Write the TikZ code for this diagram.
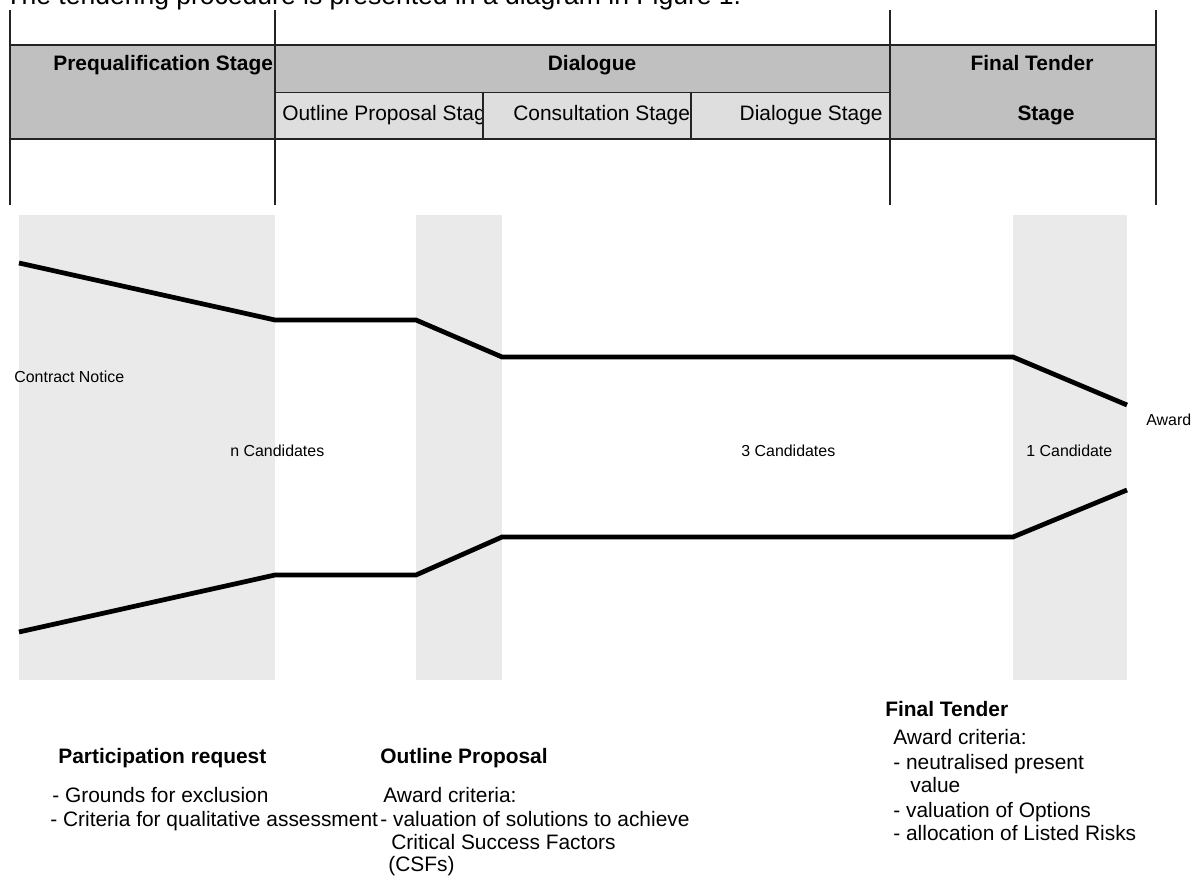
\documentclass[tikz,border=0pt]{standalone}
\usepackage{fontspec}
\setmainfont{Liberation Sans}
\begin{document}
\begin{tikzpicture}[x=0.02cm,y=-0.02cm]
\definecolor{headgray}{RGB}{192,192,192}
\definecolor{subgray}{RGB}{222,222,222}
\definecolor{colgray}{RGB}{234,234,234}
\definecolor{rulegray}{RGB}{35,35,35}
\tikzstyle{head} = [inner sep=0, font=\fontsize{11.9}{14}\selectfont\bfseries]
\tikzstyle{cell} = [inner sep=0, font=\fontsize{11.9}{14}\selectfont]
\tikzstyle{small} = [inner sep=0, font=\fontsize{9.07}{11}\selectfont]
\tikzstyle{rule} = [draw=rulegray, line width=0.7pt]
\tikzstyle{funnel} = [line width=2.7pt]

\useasboundingbox (0,0) rectangle (1203,878);

\node[inner sep=0, anchor=base west, font=\fontsize{15.1}{18}\selectfont] (title) at (5,5) {The tendering procedure is presented in a diagram in Figure 1.};

% stage table
\fill[headgray] (10,45) rectangle (1156,139);
\fill[subgray] (275,92.5) rectangle (890,139);

\node[head, anchor=base west] (prequal) at (53,71) {Prequalification Stage};
\node[head, anchor=base] (dialogue) at (592,71) {Dialogue};
\node[head, anchor=base] (finaltop) at (1032,71) {Final Tender};
\node[head, anchor=base] (finalbot) at (1046,121) {Stage};
\begin{scope}
\clip (275,92.5) rectangle (483,139);
\node[cell, anchor=base west] (outline) at (282,121) {Outline Proposal Stage};
\end{scope}
\begin{scope}
\clip (483,92.5) rectangle (691,139);
\node[cell, anchor=base west] (consult) at (513,121) {Consultation Stage};
\end{scope}
\node[cell, anchor=base east] (dlgstage) at (883,121) {Dialogue Stage};

\draw[rule] (10,45) -- (1156,45);
\draw[rule] (275,92.5) -- (890,92.5);
\draw[rule] (10,139) -- (1156,139);
\draw[rule] (483,92.5) -- (483,139);
\draw[rule] (691,92.5) -- (691,139);
\foreach \x in {10,275,890,1156}
  \draw[rule] (\x,10) -- (\x,205);

% shaded stages
\fill[colgray] (19,215) rectangle (275,680);
\fill[colgray] (416,215) rectangle (502,680);
\fill[colgray] (1013,215) rectangle (1127,680);

\coordinate (t0) at (19,263);
\coordinate (t1) at (275,320);
\coordinate (t2) at (416,320);
\coordinate (t3) at (502,357);
\coordinate (t4) at (1013,357);
\coordinate (t5) at (1127,405);
\coordinate (b0) at (19,632);
\coordinate (b1) at (275,575);
\coordinate (b2) at (416,575);
\coordinate (b3) at (502,537);
\coordinate (b4) at (1013,537);
\coordinate (b5) at (1127,490);

\draw[funnel] (t0) -- (t1) -- (t2) -- (t3) -- (t4) -- (t5);
\draw[funnel] (b0) -- (b1) -- (b2) -- (b3) -- (b4) -- (b5);

\node[small, anchor=base west] (notice) at (14,382) {Contract Notice};
\node[small, anchor=base west] (ncand) at (230,456) {n Candidates};
\node[small, anchor=base west] (threecand) at (741,456) {3 Candidates};
\node[small, anchor=base west] (onecand) at (1026,456) {1 Candidate};
\node[small, anchor=base west] (award) at (1146,425) {Award};

% criteria below
\node[head, anchor=base west] (partreq) at (58,763) {Participation request};
\node[cell, anchor=base west] (grounds) at (52,802) {- Grounds for exclusion};
\node[cell, anchor=base west] (qualcrit) at (50,826) {- Criteria for qualitative assessment};

\node[head, anchor=base west] (outprop) at (380,763) {Outline Proposal};
\node[cell, anchor=base west] (opaward) at (383,802) {Award criteria:};
\node[cell, anchor=base west] (opval) at (380,826) {- valuation of solutions to achieve};
\node[cell, anchor=base west] (opcsf) at (391,849) {Critical Success Factors};
\node[cell, anchor=base west] (opcsfs) at (388,871) {(CSFs)};

\node[head, anchor=base west] (ftender) at (885,716) {Final Tender};
\node[cell, anchor=base west] (ftaward) at (893,744) {Award criteria:};
\node[cell, anchor=base west] (ftnpv) at (893,769) {- neutralised present};
\node[cell, anchor=base west] (ftvalue) at (910,792) {value};
\node[cell, anchor=base west] (ftopt) at (893,817) {- valuation of Options};
\node[cell, anchor=base west] (ftrisk) at (893,840) {- allocation of Listed Risks};

\end{tikzpicture}
\end{document}
